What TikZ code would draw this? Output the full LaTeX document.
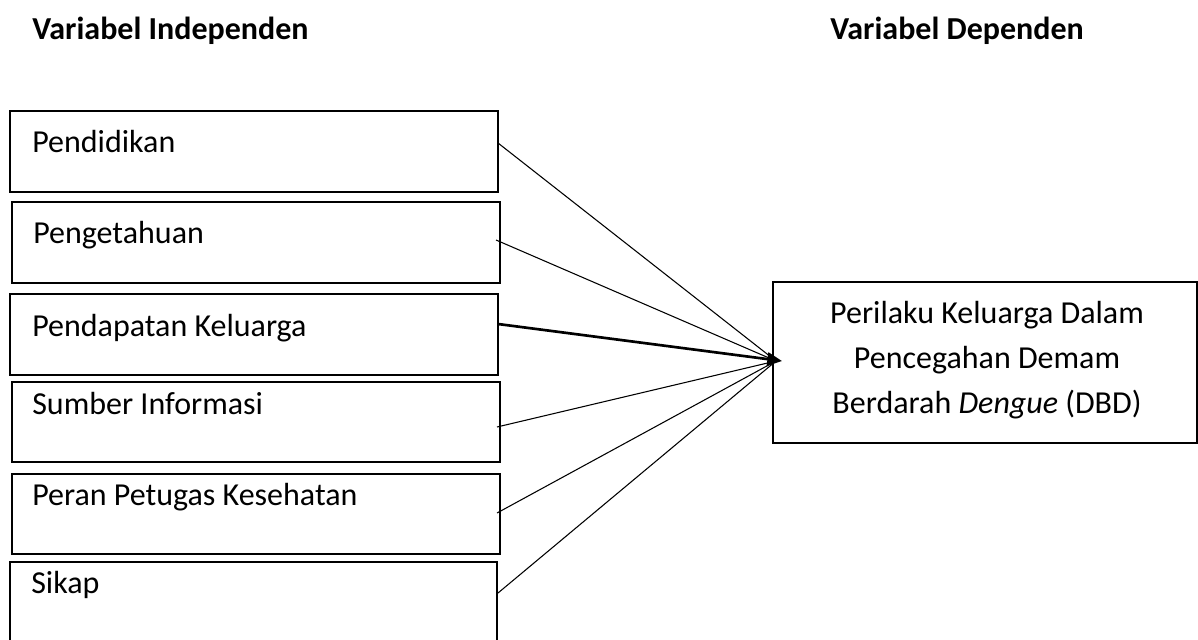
\documentclass[tikz,border=0pt]{standalone}
\usepackage{fontspec}
\setmainfont{Carlito}
\usetikzlibrary{arrows.meta}
\begin{document}
\begin{tikzpicture}[x=0.75pt,y=-0.75pt,
  ivbox/.style={draw,line width=1.5pt,rectangle,anchor=north west,inner sep=0pt,outer sep=0pt},
  lbl/.style={anchor=base west,inner sep=0pt,font=\fontsize{24}{28}\selectfont},
  ttl/.style={anchor=base west,inner sep=0pt,font=\fontsize{24}{28}\selectfont\bfseries},
  conn/.style={line width=0.8pt},
  mainconn/.style={line width=2pt,-{Triangle[length=11pt,width=10pt]}}]
\useasboundingbox (0,0) rectangle (1198,639);
% titles
\node[ttl] (t1) at (32,39) {Variabel Independen};
\node[ttl] (t2) at (830,39) {Variabel Dependen};
% independent boxes
\node[ivbox,minimum width=366pt,minimum height=60.75pt] (b1) at (10,111) {};
\node[ivbox,minimum width=366pt,minimum height=60.75pt] (b2) at (12,202) {};
\node[ivbox,minimum width=366pt,minimum height=60.75pt] (b3) at (10,294) {};
\node[ivbox,minimum width=366pt,minimum height=60pt] (b4) at (12,382) {};
\node[ivbox,minimum width=366pt,minimum height=60pt] (b5) at (12,474) {};
\node[ivbox,minimum width=365.25pt,minimum height=62.25pt] (b6) at (10,562) {};
\node[lbl] (l1) at (32,152) {Pendidikan};
\node[lbl] (l2) at (33,243) {Pengetahuan};
\node[lbl] (l3) at (32,336) {Pendapatan Keluarga};
\node[lbl] (l4) at (32,414) {Sumber Informasi};
\node[lbl] (l5) at (32,505) {Peran Petugas Kesehatan};
\node[lbl] (l6) at (31,593) {Sikap};
% dependent box
\node[ivbox,minimum width=318pt,minimum height=120.75pt] (dep) at (773,282) {};
\node[inner sep=0pt,align=center,font=\fontsize{24}{33.75}\selectfont] (dept) at (987,360)
  {Perilaku Keluarga Dalam\\Pencegahan Demam\\Berdarah \textit{Dengue} (DBD)};
% connector points
\coordinate (s1) at (498,143);
\coordinate (s2) at (496,240);
\coordinate (s3) at (498,324);
\coordinate (s4) at (497,427);
\coordinate (s5) at (497,513);
\coordinate (s6) at (498,593);
\coordinate (c) at (776,361);
\coordinate (tip) at (782,361);
\draw[conn] (s1) -- (c);
\draw[conn] (s2) -- (c);
\draw[conn] (s4) -- (c);
\draw[conn] (s5) -- (c);
\draw[conn] (s6) -- (c);
\draw[mainconn] (s3) -- (tip);
\end{tikzpicture}
\end{document}
